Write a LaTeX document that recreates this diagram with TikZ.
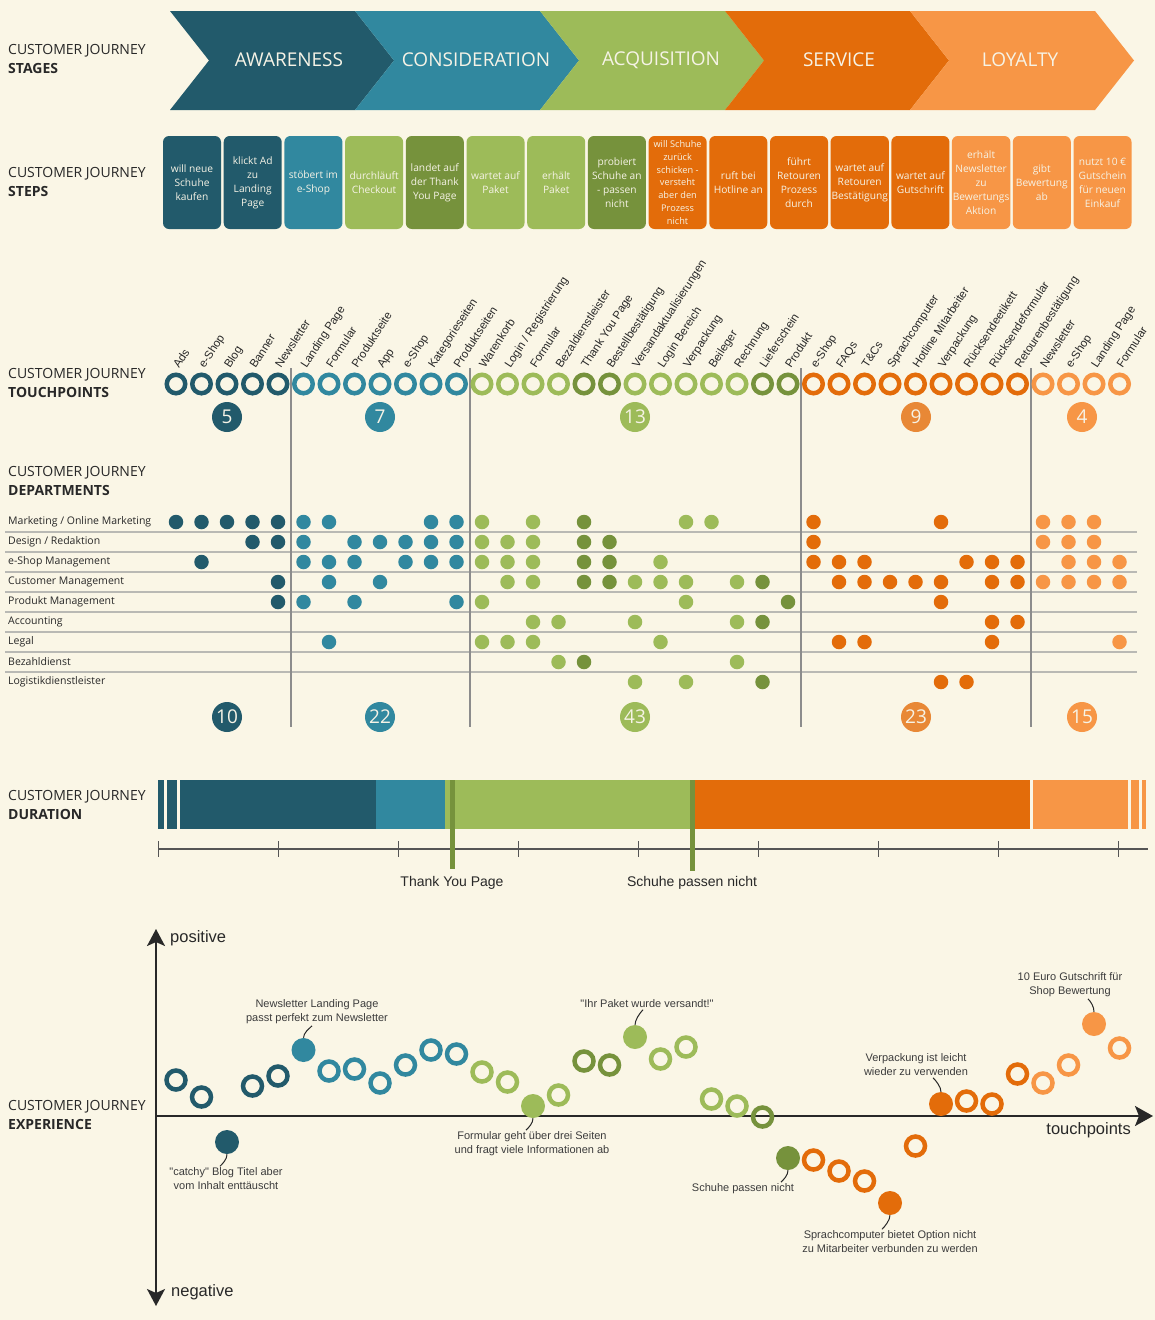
\documentclass[tikz,border=0pt]{standalone}
\usepackage{fontspec}
\setmainfont{Open Sans}
\newfontfamily\arialfont{Liberation Sans}
\usetikzlibrary{arrows.meta,calc}

\definecolor{bg}{RGB}{250,246,230}
\definecolor{cA}{RGB}{34,90,107}
\definecolor{cB}{RGB}{49,136,159}
\definecolor{cC}{RGB}{157,187,89}
\definecolor{cD}{RGB}{118,146,60}
\definecolor{cE}{RGB}{227,108,10}
\definecolor{cF}{RGB}{247,150,70}
\colorlet{cEsoft}{cE!80!bg}
\definecolor{paletext}{RGB}{246,243,230}
\definecolor{inkdark}{RGB}{40,40,40}
\definecolor{gridgray}{RGB}{185,185,180}
\definecolor{sepgray}{RGB}{140,140,140}
\definecolor{axisgray}{RGB}{85,85,85}
\definecolor{notegray}{RGB}{60,60,60}

% colour of touchpoint column #1, stored in \cc
\newcommand\pickclr[1]{%
  \ifnum#1<5 \def\cc{cA}\else
  \ifnum#1<12 \def\cc{cB}\else
  \ifnum#1<25 \def\cc{cC}%
    \ifnum#1=16 \def\cc{cD}\fi
    \ifnum#1=17 \def\cc{cD}\fi
    \ifnum#1=23 \def\cc{cD}\fi
    \ifnum#1=24 \def\cc{cD}\fi
  \else
  \ifnum#1<34 \def\cc{cE}\else \def\cc{cF}\fi\fi\fi\fi}

\tikzset{
  seclabel/.style={anchor=west, align=left, font=\fontsize{14}{18.5}\selectfont, text=inkdark, inner sep=0pt},
  stagetxt/.style={font=\fontsize{19}{22}\selectfont, text=paletext},
  stepbox/.style={rounded corners=6pt, minimum width=58pt, minimum height=93pt, align=center, inner sep=1pt, text=paletext, font=\fontsize{10.2}{14}\selectfont},
  tpring/.style={circle, draw=#1, line width=4.5pt, minimum size=18.5pt, inner sep=0pt},
  tplabel/.style={anchor=base west, rotate=57, inner sep=0pt, font=\arialfont\fontsize{11.5}{13}\selectfont, text=inkdark},
  countdot/.style={circle, fill=#1, minimum size=30pt, inner sep=0pt, text=paletext, font=\fontsize{19}{20}\selectfont},
  deptdot/.style={circle, fill=#1, minimum size=14.5pt, inner sep=0pt},
  deptlabel/.style={anchor=west, inner sep=0pt, font=\fontsize{10.5}{12}\selectfont, text=inkdark},
  exring/.style={circle, draw=#1, line width=4.5pt, minimum size=19pt, inner sep=0pt},
  exfill/.style={circle, fill=#1, minimum size=24pt, inner sep=0pt},
  note/.style={align=center, inner sep=1.5pt, font=\arialfont\fontsize{11}{14}\selectfont, text=notegray},
  notelink/.style={draw=inkdark, line width=1pt},
  axislabel/.style={inner sep=0pt, font=\arialfont\fontsize{16.5}{18}\selectfont, text=inkdark},
  durlabel/.style={inner sep=0pt, font=\arialfont\fontsize{14}{16}\selectfont, text=inkdark},
  bigaxis/.style={draw=inkdark, line width=2pt},
}

\begin{document}
\begin{tikzpicture}[x=1pt,y=-1pt]
\useasboundingbox (0,0) rectangle (1155,1320);
\fill[bg] (0,0) rectangle (1155,1320);

% ---------------- section titles ----------------
\node[seclabel] (lblStages) at (8,59) {CUSTOMER JOURNEY\\\textbf{STAGES}};
\node[seclabel] (lblSteps) at (8,182) {CUSTOMER JOURNEY\\\textbf{STEPS}};
\node[seclabel] (lblTouch) at (8,383) {CUSTOMER JOURNEY\\\textbf{TOUCHPOINTS}};
\node[seclabel] (lblDept) at (8,481) {CUSTOMER JOURNEY\\\textbf{DEPARTMENTS}};
\node[seclabel] (lblDur) at (8,805) {CUSTOMER JOURNEY\\\textbf{DURATION}};
\node[seclabel] (lblExp) at (8,1115) {CUSTOMER JOURNEY\\\textbf{EXPERIENCE}};

% ---------------- stages ----------------
\foreach \c [count=\n from 0] in {cA,cB,cC,cE,cF}{
  \pgfmathsetmacro\xl{170+185*\n}
  \pgfmathsetmacro\xr{\xl+185}
  \fill[\c] (\xl,11) -- (\xr,11) -- (\xr+39,60.5) -- (\xr,110) -- (\xl,110) -- (\xl+39,60.5) -- cycle;
}
\node[stagetxt] (stAw) at (289,60) {AWARENESS};
\node[stagetxt] (stCo) at (476,60) {CONSIDERATION};
\node[stagetxt] (stAc) at (661,60) {ACQUISITION};
\node[stagetxt] (stSe) at (839,60) {SERVICE};
\node[stagetxt] (stLo) at (1020,60) {LOYALTY};

% ---------------- steps ----------------
\node[stepbox, fill=cA] (sp1) at (192,182.5) {will neue\\Schuhe\\kaufen};
\node[stepbox, fill=cA] (sp2) at (252.7,182.5) {klickt Ad\\zu\\Landing\\Page};
\node[stepbox, fill=cB] (sp3) at (313.4,182.5) {stöbert im\\e-Shop};
\node[stepbox, fill=cC] (sp4) at (374.1,182.5) {durchläuft\\Checkout};
\node[stepbox, fill=cD] (sp5) at (434.8,182.5) {landet auf\\der Thank\\You Page};
\node[stepbox, fill=cC] (sp6) at (495.5,182.5) {wartet auf\\Paket};
\node[stepbox, fill=cC] (sp7) at (556.2,182.5) {erhält\\Paket};
\node[stepbox, fill=cD] (sp8) at (616.9,182.5) {probiert\\Schuhe an\\- passen\\nicht};
\node[stepbox, fill=cE, font=\fontsize{9.2}{12.8}\selectfont] (sp9) at (677.6,182.5) {will Schuhe\\zurück\\schicken -\\versteht\\aber den\\Prozess\\nicht};
\node[stepbox, fill=cE] (sp10) at (738.3,182.5) {ruft bei\\Hotline an};
\node[stepbox, fill=cE] (sp11) at (799,182.5) {führt\\Retouren\\Prozess\\durch};
\node[stepbox, fill=cE] (sp12) at (859.7,182.5) {wartet auf\\Retouren\\Bestätigung};
\node[stepbox, fill=cE] (sp13) at (920.4,182.5) {wartet auf\\Gutschrift};
\node[stepbox, fill=cF] (sp14) at (981.1,182.5) {erhält\\Newsletter\\zu\\Bewertungs\\Aktion};
\node[stepbox, fill=cF] (sp15) at (1041.8,182.5) {gibt\\Bewertung\\ab};
\node[stepbox, fill=cF] (sp16) at (1102.5,182.5) {nutzt 10 €\\Gutschein\\für neuen\\Einkauf};

% ---------------- department grid and stage separators ----------------
\foreach \y in {532,552,572,592,612,632,652,672}
  \draw[gridgray, line width=1.2pt] (5,\y) -- (1137,\y);
\foreach \x in {291,470,801,1031}
  \draw[sepgray, line width=1.3pt] (\x,368) -- (\x,727);

% ---------------- touchpoints ----------------
\foreach \t [count=\n from 0] in {Ads,e-Shop,Blog,Banner,Newsletter,Landing Page,Formular,Produktseite,App,e-Shop,Kategorieseiten,Produktseiten,Warenkorb,{Login / Registrierung},Formular,Bezaldienstleister,Thank You Page,Bestellbestätigung,Versandaktualisierungen,Login Bereich,Verpackung,Beileger,Rechnung,Lieferschein,Produkt,e-Shop,FAQs,T\&Cs,Sprachcomputer,Hotline Mitarbeiter,Verpackung,Rücksendeetikett,Rücksendeformular,Retourenbestätigung,Newsletter,e-Shop,Landing Page,Formular}{
  \pickclr{\n}
  \pgfmathsetmacro\xx{176+25.5*\n}
  \node[tpring=\cc] (tp\n) at (\xx,384) {};
  \node[tplabel] (tl\n) at (\xx+3,369) {\t};
}
\node[countdot=cA] (tc1) at (227,417) {5};
\node[countdot=cB] (tc2) at (380,417) {7};
\node[countdot=cC] (tc3) at (635,417) {13};
\node[countdot=cEsoft] (tc4) at (916,417) {9};
\node[countdot=cF] (tc5) at (1082,417) {4};

% ---------------- departments ----------------
\node[deptlabel] (dl0) at (8,522) {Marketing / Online Marketing};
\node[deptlabel] (dl1) at (8,542) {Design / Redaktion};
\node[deptlabel] (dl2) at (8,562) {e-Shop Management};
\node[deptlabel] (dl3) at (8,582) {Customer Management};
\node[deptlabel] (dl4) at (8,602) {Produkt Management};
\node[deptlabel] (dl5) at (8,622) {Accounting};
\node[deptlabel] (dl6) at (8,642) {Legal};
\node[deptlabel] (dl7) at (8,662) {Bezahldienst};
\node[deptlabel] (dl8) at (8,682) {Logistikdienstleister};

\foreach \r/\cols in {
  0/{0,1,2,3,4,5,6,10,11,12,14,16,20,21,25,30,34,35,36},
  1/{3,4,5,7,8,9,10,11,12,13,14,16,17,25,34,35,36},
  2/{1,5,6,7,9,10,11,12,13,14,16,17,19,25,26,27,31,32,33,35,36,37},
  3/{4,6,8,13,14,16,17,18,19,20,22,23,26,27,28,29,30,32,33,34,35,36,37},
  4/{4,5,7,11,12,20,24,30},
  5/{14,15,18,22,23,32,33},
  6/{6,12,13,14,19,26,27,32,37},
  7/{15,16,22},
  8/{18,20,23,30,31}}{
  \pgfmathsetmacro\yy{522+20*\r}
  \foreach \i in \cols {
    \pickclr{\i}
    \pgfmathsetmacro\xx{176+25.5*\i}
    \node[deptdot=\cc] (dd\r-\i) at (\xx,\yy) {};
  }
}
\node[countdot=cA] (dc1) at (227,717) {10};
\node[countdot=cB] (dc2) at (380,717) {22};
\node[countdot=cC] (dc3) at (635,717) {43};
\node[countdot=cEsoft] (dc4) at (916,717) {23};
\node[countdot=cF] (dc5) at (1082,717) {15};

% ---------------- duration ----------------
\fill[cA] (158,780) rectangle (164,829);
\fill[cA] (167,780) rectangle (177,829);
\fill[cA] (180,780) rectangle (376,829);
\fill[cB] (376,780) rectangle (445,829);
\fill[cC] (445,780) rectangle (693,829);
\fill[cE] (693,780) rectangle (1030,829);
\fill[cF] (1033,780) rectangle (1128,829);
\fill[cF] (1131,780) rectangle (1139,829);
\fill[cF] (1142,780) rectangle (1146,829);

\draw[axisgray, line width=1.5pt] (158,849) -- (1148,849);
\foreach \k in {0,...,8}
  \draw[axisgray, line width=1pt] (158+120*\k,841) -- (158+120*\k,857);

\node[durlabel] (mk1) at (452,883) {Thank You Page};
\node[durlabel] (mk2) at (692,883) {Schuhe passen nicht};
\draw[cD, line width=5pt] (452,780) -- (452,869);
\draw[cD, line width=5pt] (692,780) -- (692,871);

% ---------------- experience ----------------
\coordinate (yTop) at (156,929);
\coordinate (yBot) at (156,1306);
\coordinate (xLeft) at (156,1116);
\coordinate (xRight) at (1153,1116);
\draw[bigaxis, {Stealth[length=17pt,width=18pt,inset=4pt]}-{Stealth[length=17pt,width=18pt,inset=4pt]}] (yBot) -- (yTop);
\draw[bigaxis, -{Stealth[length=18pt,width=20pt,inset=4pt]}] (xLeft) -- (xRight);
\node[axislabel, anchor=west] (lpos) at (170,938) {positive};
\node[axislabel, anchor=west] (lneg) at (171,1292) {negative};
\node[axislabel, anchor=east] (ltp) at (1131,1130) {touchpoints};

\foreach \i/\yy in {0/1080,1/1097,3/1086,4/1076,6/1071,7/1069,8/1083,9/1065,10/1050,11/1054,12/1072,13/1082,15/1095,16/1061,17/1065,19/1059,20/1047,21/1099,22/1106,23/1117,25/1160,26/1171,27/1181,29/1146,31/1101,32/1104,33/1074,34/1083,35/1065,37/1048}{
  \pickclr{\i}
  \pgfmathsetmacro\xx{176+25.5*\i}
  \node[exring=\cc] (ex\i) at (\xx,\yy) {};
}
\foreach \i/\yy in {2/1142,5/1050,14/1106,18/1037,24/1158,28/1203,30/1104,36/1024}{
  \pickclr{\i}
  \pgfmathsetmacro\xx{176+25.5*\i}
  \node[exfill=\cc] (ex\i) at (\xx,\yy) {};
}

% annotations
\node[note] (nt2) at (226,1179) {"catchy" Blog Titel aber\\vom Inhalt enttäuscht};
\node[note] (nt5) at (317,1012) {Newsletter Landing Page\\passt perfekt zum Newsletter};
\node[note] (nt14) at (532,1144) {Formular geht über drei Seiten\\und fragt viele Informationen ab};
\node[note] (nt18) at (647,1004) {"Ihr Paket wurde versandt!"};
\node[note] (nt24) at (743,1189) {Schuhe passen nicht};
\node[note] (nt28) at (890,1242) {Sprachcomputer bietet Option nicht\\zu Mitarbeiter verbunden zu werden};
\node[note] (nt30) at (916,1065) {Verpackung ist leicht\\wieder zu verwenden};
\node[note] (nt36) at (1070,985) {10 Euro Gutschrift für\\Shop Bewertung};

\draw[notelink] (ex2.south) .. controls +(0,5) and +(3,-3) .. ([xshift=-6pt]nt2.north);
\draw[notelink] (ex5.north) .. controls +(0,-5) and +(-3,3) .. ([xshift=-5pt]nt5.south);
\draw[notelink] (ex14.south) .. controls +(0,5) and +(3,-3) .. ([xshift=-6pt]nt14.north);
\draw[notelink] (ex18.north) .. controls +(0,-5) and +(-3,3) .. ([xshift=-4pt]nt18.south);
\draw[notelink] (ex24.south) .. controls +(0,5) and +(3,-3) .. ([xshift=38pt]nt24.north);
\draw[notelink] (ex28.south) .. controls +(0,5) and +(3,-3) .. ([xshift=-8pt]nt28.north);
\draw[notelink] (ex30.north) .. controls +(0,-5) and +(3,3) .. ([xshift=17pt]nt30.south);
\draw[notelink] (ex36.north) .. controls +(0,-5) and +(3,3) .. ([xshift=18pt]nt36.south);
\end{tikzpicture}
\end{document}
